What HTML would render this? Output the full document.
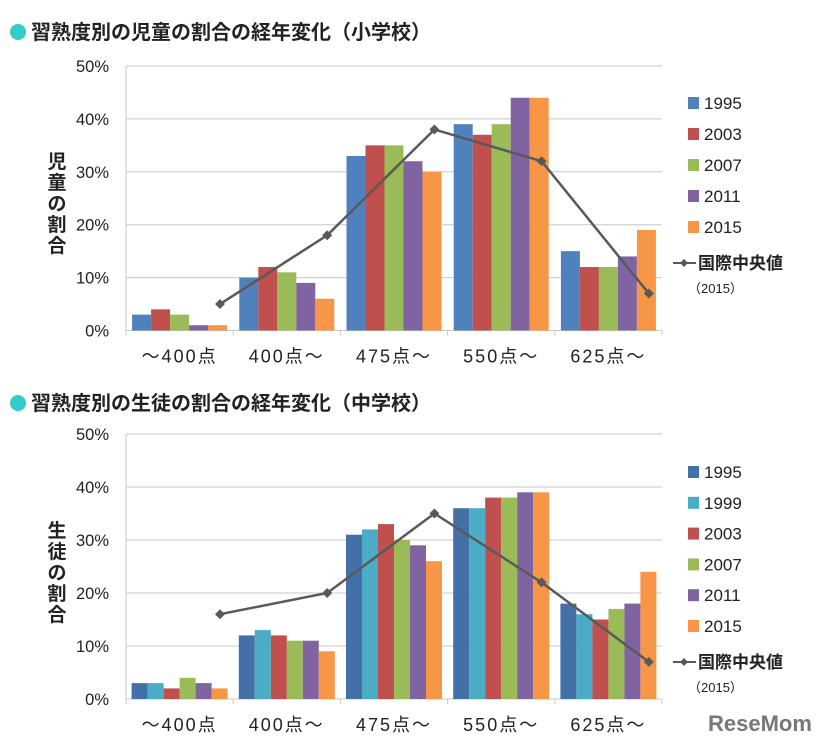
<!DOCTYPE html>
<html><head><meta charset="utf-8">
<style>
body{margin:0;background:#fff;width:819px;height:746px;overflow:hidden;font-family:"Liberation Sans","Noto Sans CJK JP",sans-serif;}
svg{position:absolute;left:0;top:0}
</style></head>
<body>
<svg id="svg" width="819" height="746" font-family="Liberation Sans, Noto Sans CJK JP, sans-serif"></svg>
<script>
const categories=["～400点","400点～","475点～","550点～","625点～"];
const yTicks=[0,10,20,30,40,50];
const topYears=["1995","2003","2007","2011","2015"];
const top1995=[3,10,33,39,15];
const top2003=[4,12,35,37,12];
const top2007=[3,11,35,39,12];
const top2011=[1,9,32,44,14];
const top2015=[1,6,30,44,19];
const topMedian=[5,18,38,32,7];
const botYears=["1995","1999","2003","2007","2011","2015"];
const bot1995=[3,12,31,36,18];
const bot1999=[3,13,32,36,16];
const bot2003=[2,12,33,38,15];
const bot2007=[4,11,30,38,17];
const bot2011=[3,11,29,39,18];
const bot2015=[2,9,26,39,24];
const botMedian=[16,20,35,22,7];
const colors={"1995":"#4F81BD","1999":"#4BACC6","2003":"#C0504D","2007":"#9BBB59","2011":"#8064A2","2015":"#F79646"};
const NS="http://www.w3.org/2000/svg";
const svg=document.getElementById('svg');
function mk(tag,attrs,parent){const e=document.createElementNS(NS,tag);for(const k in attrs)e.setAttribute(k,attrs[k]);(parent||svg).appendChild(e);return e;}
function txt(s,attrs,parent){const e=mk('text',attrs,parent);e.textContent=s;return e;}

function chart(cfg){
  const g=mk('g',{});
  
  
  const x0=126,x1=662,y0=cfg.y0,y50=cfg.y50;
  const yS=v=>y0+(y50-y0)*v/50;
  const cw=(x1-x0)/categories.length;
  const c=mk('circle',{cx:18,cy:cfg.ty-7,r:8,fill:'#33CCCC'},g);
  
  const t=txt(cfg.title,{x:31,y:cfg.ty,'font-size':20,'font-weight':'bold',fill:'#222'},g);
  
  yTicks.forEach(v=>{
    const l=mk('line',{x1:x0,x2:x1,y1:yS(v),y2:yS(v),stroke:'#c8c8c8','stroke-width':1},g);
    
    const tl=txt(v+'%',{x:109,y:yS(v)+6,'font-size':16.5,'text-anchor':'end',fill:'#222'},g);
    
  });
  const ax=mk('line',{x1:x0,x2:x0,y1:y50,y2:y0+5,stroke:'#c8c8c8'},g);
  
  for(let i=0;i<=categories.length;i++){
    const tk=mk('line',{x1:x0+i*cw,x2:x0+i*cw,y1:y0,y2:y0+5,stroke:'#c8c8c8'},g);
    
  }
  cfg.ytitle.split('').forEach((ch,i)=>{
    const e=txt(ch,{x:57,y:cfg.ytY+i*21,'font-size':19,'font-weight':'bold','text-anchor':'middle',fill:'#222'},g);
    
  });
  const n=cfg.series.length, bw=cfg.bw, pad=(cw-n*bw)/2;
  categories.forEach((cat,ci)=>{
    cfg.series.forEach((s,si)=>{
      const v=s[ci];
      const r=mk('rect',{x:x0+ci*cw+pad+si*bw,y:yS(v),width:bw,height:y0-yS(v),fill:(cfg.c1995&&si===0)?cfg.c1995:colors[cfg.years[si]]},g);
      
      
    });
    const cl=txt(cat,{x:x0+ci*cw+cw/2,y:y0+32,'font-size':18,'text-anchor':'middle',fill:'#222','letter-spacing':'2'},g);
    
  });
  const px=ci=>x0+ci*cw+94;
  const pts=cfg.median.map((v,i)=>px(i)+','+yS(v)).join(' ');
  const pl=mk('polyline',{points:pts,fill:'none',stroke:'#595959','stroke-width':2.5},g);
  
  cfg.median.forEach((v,i)=>{
    const x=px(i),y=yS(v);
    const d=mk('polygon',{points:`${x},${y-5} ${x+5},${y} ${x},${y+5} ${x-5},${y}`,fill:'#595959'},g);
    
  });
  cfg.years.forEach((yr,i)=>{
    const ly=cfg.ly+i*cfg.lstep;
    const sq=mk('rect',{x:688,y:ly-12,width:11,height:12,fill:(cfg.c1995&&i===0)?cfg.c1995:colors[yr]},g);
    
    const lt=txt(yr,{x:704,y:ly,'font-size':17,fill:'#222'},g);
    
  });
  const ml=mk('line',{x1:673,x2:696,y1:cfg.mly-6,y2:cfg.mly-6,stroke:'#595959','stroke-width':2},g);
  
  mk('polygon',{points:`684,${cfg.mly-10} 688,${cfg.mly-6} 684,${cfg.mly-2} 680,${cfg.mly-6}`,fill:'#595959'},g);
  const mt=txt('国際中央値',{x:698,y:cfg.mly,'font-size':17,'font-weight':'bold',fill:'#222'},g);
  
  const mt2=txt('（2015）',{x:688,y:cfg.mly+24,'font-size':13,fill:'#222'},g);
  
}
chart({name:'elementary-chart',title:'習熟度別の児童の割合の経年変化（小学校）',ty:39,y0:330.5,y50:66,ytitle:'児童の割合',ytY:168,
  years:topYears,series:[top1995,top2003,top2007,top2011,top2015],median:topMedian,bw:19,ly:109,lstep:31,mly:269});
chart({name:'junior-high-chart',title:'習熟度別の生徒の割合の経年変化（中学校）',ty:410,y0:699,y50:434,ytitle:'生徒の割合',ytY:537,c1995:'#4470A8',
  years:botYears,series:[bot1995,bot1999,bot2003,bot2007,bot2011,bot2015],median:botMedian,bw:16,ly:478,lstep:30.8,mly:668});
const logo=txt('ReseMom',{x:708,y:731,'font-size':22,'font-weight':'bold',fill:'#777'});


</script>
</body></html>
